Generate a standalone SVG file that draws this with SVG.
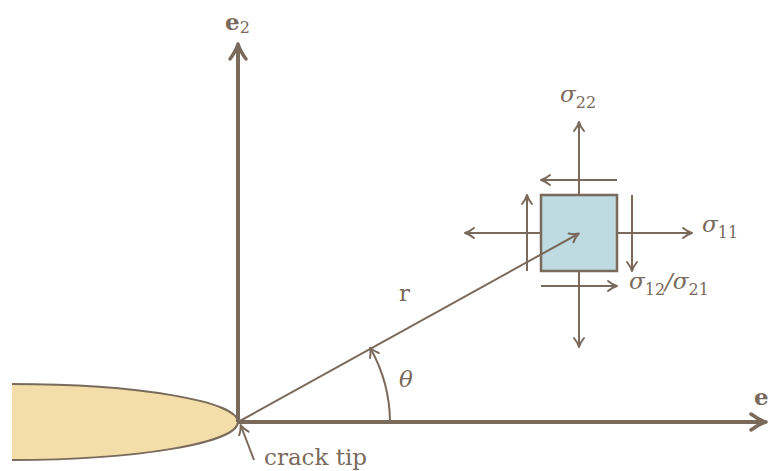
<svg xmlns="http://www.w3.org/2000/svg" width="770" height="471" viewBox="0 0 770 471">
<style>
.ln{stroke:#7a6a5b;fill:none;stroke-width:2}
.ax{stroke:#7a6a5b;fill:none;stroke-width:4}
.t{font-family:"DejaVu Serif","Liberation Serif",serif;fill:#7a6a5b;font-size:23px}
.i{font-style:italic}
.b{font-weight:bold}
.sub{font-size:16px;font-style:normal}
</style>
<defs>
<marker id="a" markerUnits="userSpaceOnUse" orient="auto" overflow="visible" refX="0" refY="0" markerWidth="12" markerHeight="12">
<path d="M-8,-5 Q-3,-1 1,0 Q-3,1 -8,5" fill="none" stroke="#7a6a5b" stroke-width="2" stroke-linecap="round" stroke-linejoin="round"/>
</marker>
<marker id="A" markerUnits="userSpaceOnUse" orient="auto" overflow="visible" refX="0" refY="0" markerWidth="20" markerHeight="20">
<path d="M-13,-8 Q-5,-2 2,0 Q-5,2 -13,8" fill="none" stroke="#7a6a5b" stroke-width="3.5" stroke-linecap="round" stroke-linejoin="round"/>
</marker>
</defs>
<g id="crack">
<path d="M12,384 A226,38 0 0 1 238,422 A226,38 0 0 1 12,460 Z" fill="#f3dea9" stroke="none"/>
<path d="M12,384 A226,38 0 0 1 238,422 A226,38 0 0 1 12,460" class="ln"/>
</g>
<g id="element">
<rect x="541" y="195" width="76" height="76" fill="#bddbe0" stroke="#7a6a5b" stroke-width="2.5"/>
</g>
<g id="connectors">
<line class="ax" x1="238" y1="422" x2="238" y2="46" marker-end="url(#A)"/>
<line class="ax" x1="238" y1="422" x2="764" y2="422" marker-end="url(#A)"/>
<line class="ln" x1="238" y1="422" x2="578" y2="234" marker-end="url(#a)"/>
<path class="ln" d="M390,422 A152,152 0 0 0 370.5,348.5" marker-end="url(#a)"/>
<line class="ln" x1="254" y1="460" x2="241" y2="426" marker-end="url(#a)"/>
<line class="ln" x1="579" y1="195" x2="579" y2="123" marker-end="url(#a)"/>
<line class="ln" x1="579" y1="271" x2="579" y2="346" marker-end="url(#a)"/>
<line class="ln" x1="617" y1="233" x2="691" y2="233" marker-end="url(#a)"/>
<line class="ln" x1="541" y1="233" x2="466" y2="233" marker-end="url(#a)"/>
<line class="ln" x1="617" y1="180" x2="542" y2="180" marker-end="url(#a)"/>
<line class="ln" x1="541" y1="286" x2="616" y2="286" marker-end="url(#a)"/>
<line class="ln" x1="527" y1="271" x2="527" y2="196" marker-end="url(#a)"/>
<line class="ln" x1="632" y1="195" x2="632" y2="270" marker-end="url(#a)"/>
</g>
<g id="labels">
<text class="t b" x="225" y="30">e<tspan class="sub" font-weight="normal" dy="3">2</tspan></text>
<text class="t b" x="754" y="405">e</text>
<text class="t" x="399" y="301">r</text>
<text class="t i" x="399" y="387">θ</text>
<text class="t" x="264" y="465">crack tip</text>
<text class="t i" x="560" y="102">σ<tspan class="sub" dy="6">22</tspan></text>
<text class="t i" x="702" y="232">σ<tspan class="sub" dy="6">11</tspan></text>
<text class="t i" x="629" y="289">σ<tspan class="sub" dy="6">12</tspan><tspan dy="-6">/σ</tspan><tspan class="sub" dy="6">21</tspan></text>
</g>
</svg>
